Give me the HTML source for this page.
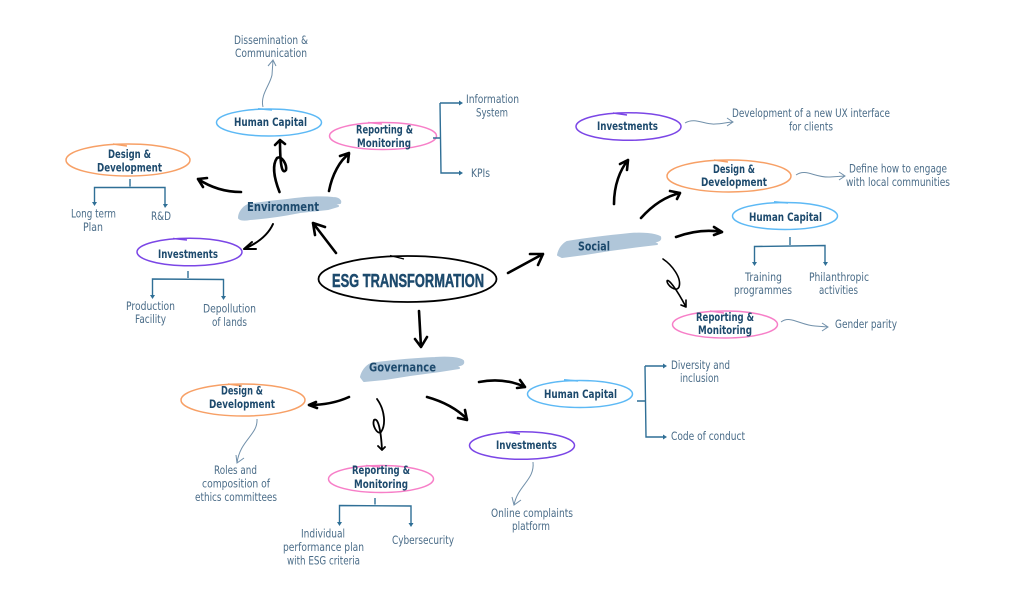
<!DOCTYPE html>
<html><head><meta charset="utf-8"><style>
html,body{margin:0;padding:0;background:#fff}
svg{display:block}
text{font-family:"DejaVu Sans","Liberation Sans",sans-serif}
.t{font-size:11.5px;fill:#4a6c88}
.b{font-size:11.500px;font-weight:700;fill:#1d4a6d}
.k{fill:none;stroke:#000;stroke-width:2.6;stroke-linecap:round;stroke-linejoin:round}
.w{fill:none;stroke:#7190aa;stroke-width:1}
.r{fill:none;stroke:#2f6f96;stroke-width:1.4}
.e{fill:none;stroke-width:1.5}
.br{fill:#b0c6d9;stroke:#b0c6d9;stroke-width:2;stroke-linejoin:round}
</style></head><body>
<svg xmlns="http://www.w3.org/2000/svg" width="1024" height="601" viewBox="0 0 1024 601">
<rect width="1024" height="601" fill="#fff"/>
<!-- brush strokes -->
<path class="br" d="M239 218C239 213 243 207 248 205C265 202 280 201 295 199C310 197 325 197 333 198C339 198 341 201 340 203L332 204L338 206L328 209L300 212C285 215 265 218 250 219C245 220 241 220 239 218Z"/>
<path class="br" d="M558 255C559 250 562 245 567 242C585 239 610 236 630 234C642 233 655 234 660 237C661 240 659 241 652 242L657 244L640 246L610 250L585 254L562 257Z"/>
<path class="br" d="M361 377C362 372 366 366 371 364C390 361 415 359 435 358C448 357 460 358 463 361C464 364 462 365 455 366L459 368L440 371L410 375L385 379L364 381Z"/>
<!-- ellipses -->
<g class="e" stroke="#5db9f5">
<ellipse cx="269" cy="122.500" rx="52.500" ry="13.500"/><path d="M272 110L258 108.800"/>
<ellipse cx="785" cy="216" rx="52.500" ry="13.500"/><path d="M788 203L774 201.800"/>
<ellipse cx="580" cy="394" rx="52.500" ry="13.500"/><path d="M578 381L564 379.800"/>
</g>
<g class="e" stroke="#f7a066">
<ellipse cx="128" cy="160" rx="62" ry="16"/><path d="M127 146L113 144"/>
<ellipse cx="729" cy="176" rx="62" ry="16"/><path d="M728 162L714 160"/>
<ellipse cx="243" cy="400" rx="62" ry="16"/><path d="M242 386L228 384"/>
</g>
<g class="e" stroke="#f77fc8">
<ellipse cx="383" cy="136" rx="53.500" ry="13.500"/><path d="M382 124L368 122.500"/>
<ellipse cx="725" cy="324.500" rx="52.500" ry="13.500"/><path d="M724 313L710 311"/>
<ellipse cx="381" cy="479" rx="52.500" ry="13.500"/><path d="M380 467L366 465.500"/>
</g>
<g class="e" stroke="#7b46e6">
<ellipse cx="189.500" cy="252" rx="52.500" ry="13.800"/><path d="M187 240L173 238.500"/>
<ellipse cx="628.500" cy="126.500" rx="52.500" ry="13.800"/><path d="M627 115L613 113"/>
<ellipse cx="522" cy="445.500" rx="52.500" ry="13.800"/><path d="M520 434L506 432"/>
</g>
<ellipse cx="407.500" cy="279" rx="89" ry="23" fill="none" stroke="#000" stroke-width="1.800"/>
<path d="M404 259L390 255.500" fill="none" stroke="#000" stroke-width="1.400"/>
<!-- black arrows -->
<g class="k">
<path d="M279.500 192C274 178 272 165 277 158C282 155 287 165 286 170C282 175 280 165 280 140M275 145L280 140L285 144"/>
<path d="M241 192C225 192 210 187 198 179M207 178L198 179L203 187"/>
<path d="M329 191C332 175 340 160 349 154M340 156L349 153L348 162"/>
<path d="M273 224C268 235 258 243 244 249M252 242L244 249L256 249" stroke-width="2"/>
<path d="M336 253L313 223M315 235L313 223L325 227"/>
<path d="M419 311L421 347M415 339L421 347L427 337"/>
<path d="M508 273L543 254M530 254L543 254L538 265"/>
<path d="M614 204C614 185 620 170 628 160M620 164L628 160L627 170"/>
<path d="M641 218C650 208 663 197 680 193M670 191L680 193L677 199"/>
<path d="M676 237C690 232 705 229 722 232M714 227L722 232L714 235"/>
<path d="M663 259C672 265 682 278 679 287C676 293 667 285 667 281C668 278 676 288 686 307M681 305L686 307L686 300" stroke-width="1.600"/>
<path d="M349 397C338 402 325 405 309 405M316 402L309 405L317 408"/>
<path d="M377 399C385 410 386 425 381 432C377 435 372 425 374 420C378 417 381 430 382 450M378 446L382 450L385 447" stroke-width="1.800"/>
<path d="M427 397C445 402 458 410 467 419M458 418L467 420L465 410"/>
<path d="M479 382C495 379 510 380 525 387M517 388L525 387L520 380"/>
</g>
<!-- blue trees -->
<g class="r">
<path d="M130 179V186.500M94.500 203V187.500L165 187.500V205"/>
<path d="M188 271V278M152.500 296V279L223.500 279.500V297"/>
<path d="M790 237V245M754.500 263V246.500L825 245.500V263"/>
<path d="M375 498V504.500M339.500 523V505.500L411 506V524"/>
<path d="M433 138H440.500M440 103H460M440 103L441 173H460"/>
<path d="M637 401H645.500M645 366H664M645 366L646 437H664"/>
</g>
<g fill="#2f6f96">
<path d="M92 202H97L94.500 206Z"/><path d="M163 204H168L165 208Z"/>
<path d="M150 295H155L152.500 299Z"/><path d="M221 296H226L223.500 300Z"/>
<path d="M752 262H757L754.500 266Z"/><path d="M823 262H828L825.500 266Z"/>
<path d="M337 522H342L339.500 526Z"/><path d="M408.500 523H413.500L411 527Z"/>
<path d="M459 100.500V105.500L463 103Z"/><path d="M459 170.500V175.500L463 173Z"/>
<path d="M663 363.500V368.500L667 366Z"/><path d="M663 434.500V439.500L667 437Z"/>
</g>
<!-- thin waves -->
<g class="w">
<path d="M263 107C260 95 270 85 272 75L273 60M268 66L273 60L276 66"/>
<path d="M685 123C695 117 705 125 715 124C722 124 728 122 733 122M727 118L733 122L727 126"/>
<path d="M796 175C806 168 815 178 830 177L845 176M839 172L845 176L839 180"/>
<path d="M781 322C790 315 800 325 815 326L828 327M822 323L828 327L822 331"/>
<path d="M257 419C258 435 240 440 237 463M236 455L237 463L244 458"/>
<path d="M533 462C535 480 518 485 514 505M512 497L514 505L521 500"/>
</g>
<!-- labels -->
<text x="332" y="287" textLength="152" lengthAdjust="spacingAndGlyphs" style="font-family:'Liberation Sans',sans-serif;font-weight:700;font-size:18.500px;fill:#1d4a6d;stroke:#1d4a6d;stroke-width:.5">ESG TRANSFORMATION</text>
<g>
<text class="t" x="234" y="44" textLength="74" lengthAdjust="spacingAndGlyphs">Dissemination &amp;</text>
<text class="t" x="235" y="57" textLength="72" lengthAdjust="spacingAndGlyphs">Communication</text>
<text class="b" x="234" y="126" textLength="73" lengthAdjust="spacingAndGlyphs">Human Capital</text>
<text class="b" x="108" y="158" textLength="43" lengthAdjust="spacingAndGlyphs">Design &amp;</text>
<text class="b" x="97" y="171.500" textLength="65" lengthAdjust="spacingAndGlyphs">Development</text>
<text class="b" x="356" y="133.500" textLength="57" lengthAdjust="spacingAndGlyphs">Reporting &amp;</text>
<text class="b" x="357" y="147" textLength="54" lengthAdjust="spacingAndGlyphs">Monitoring</text>
<text class="t" x="466" y="103" textLength="53" lengthAdjust="spacingAndGlyphs">Information</text>
<text class="t" x="476" y="116.500" textLength="32" lengthAdjust="spacingAndGlyphs">System</text>
<text class="t" x="471" y="177" textLength="19" lengthAdjust="spacingAndGlyphs">KPIs</text>
<text class="b" style="font-size:12.500px" x="247" y="211" textLength="72" lengthAdjust="spacingAndGlyphs">Environment</text>
<text class="t" x="71" y="217.500" textLength="45" lengthAdjust="spacingAndGlyphs">Long term</text>
<text class="t" x="83" y="231" textLength="20" lengthAdjust="spacingAndGlyphs">Plan</text>
<text class="t" x="151" y="220" textLength="20" lengthAdjust="spacingAndGlyphs">R&amp;D</text>
<text class="b" x="158" y="258" textLength="60" lengthAdjust="spacingAndGlyphs">Investments</text>
<text class="t" x="126" y="310" textLength="49" lengthAdjust="spacingAndGlyphs">Production</text>
<text class="t" x="135" y="323" textLength="31" lengthAdjust="spacingAndGlyphs">Facility</text>
<text class="t" x="203" y="312.500" textLength="53" lengthAdjust="spacingAndGlyphs">Depollution</text>
<text class="t" x="212" y="326" textLength="35" lengthAdjust="spacingAndGlyphs">of lands</text>
<text class="b" style="font-size:12.500px" x="578" y="250.500" textLength="32" lengthAdjust="spacingAndGlyphs">Social</text>
<text class="b" style="font-size:12.500px" x="369" y="371.500" textLength="67" lengthAdjust="spacingAndGlyphs">Governance</text>
<text class="b" x="597" y="130" textLength="61" lengthAdjust="spacingAndGlyphs">Investments</text>
<text class="b" x="713" y="173" textLength="42" lengthAdjust="spacingAndGlyphs">Design &amp;</text>
<text class="b" x="701" y="186" textLength="66" lengthAdjust="spacingAndGlyphs">Development</text>
<text class="b" x="749" y="221" textLength="73" lengthAdjust="spacingAndGlyphs">Human Capital</text>
<text class="t" x="745" y="281" textLength="37" lengthAdjust="spacingAndGlyphs">Training</text>
<text class="t" x="734" y="294" textLength="58" lengthAdjust="spacingAndGlyphs">programmes</text>
<text class="t" x="809" y="281" textLength="60" lengthAdjust="spacingAndGlyphs">Philanthropic</text>
<text class="t" x="819" y="294" textLength="39" lengthAdjust="spacingAndGlyphs">activities</text>
<text class="b" x="696" y="321" textLength="58" lengthAdjust="spacingAndGlyphs">Reporting &amp;</text>
<text class="b" x="698" y="334" textLength="54" lengthAdjust="spacingAndGlyphs">Monitoring</text>
<text class="t" x="835" y="328" textLength="62" lengthAdjust="spacingAndGlyphs">Gender parity</text>
<text class="t" x="732" y="117" textLength="158" lengthAdjust="spacingAndGlyphs">Development of a new UX interface</text>
<text class="t" x="789" y="130.500" textLength="44" lengthAdjust="spacingAndGlyphs">for clients</text>
<text class="t" x="849" y="172.500" textLength="98" lengthAdjust="spacingAndGlyphs">Define how to engage</text>
<text class="t" x="846" y="186" textLength="104" lengthAdjust="spacingAndGlyphs">with local communities</text>
<text class="b" x="221" y="394.500" textLength="42" lengthAdjust="spacingAndGlyphs">Design &amp;</text>
<text class="b" x="209" y="408" textLength="66" lengthAdjust="spacingAndGlyphs">Development</text>
<text class="t" x="214" y="474" textLength="43" lengthAdjust="spacingAndGlyphs">Roles and</text>
<text class="t" x="202" y="487.500" textLength="68" lengthAdjust="spacingAndGlyphs">composition of</text>
<text class="t" x="195" y="501" textLength="82" lengthAdjust="spacingAndGlyphs">ethics committees</text>
<text class="b" x="352" y="474" textLength="58" lengthAdjust="spacingAndGlyphs">Reporting &amp;</text>
<text class="b" x="354" y="488" textLength="54" lengthAdjust="spacingAndGlyphs">Monitoring</text>
<text class="t" x="301" y="537.500" textLength="44" lengthAdjust="spacingAndGlyphs">Individual</text>
<text class="t" x="283" y="551" textLength="81" lengthAdjust="spacingAndGlyphs">performance plan</text>
<text class="t" x="287" y="564.500" textLength="73" lengthAdjust="spacingAndGlyphs">with ESG criteria</text>
<text class="t" x="392" y="544" textLength="62" lengthAdjust="spacingAndGlyphs">Cybersecurity</text>
<text class="b" x="544" y="398" textLength="73" lengthAdjust="spacingAndGlyphs">Human Capital</text>
<text class="b" x="496" y="449" textLength="61" lengthAdjust="spacingAndGlyphs">Investments</text>
<text class="t" x="491" y="517" textLength="82" lengthAdjust="spacingAndGlyphs">Online complaints</text>
<text class="t" x="512" y="530" textLength="38" lengthAdjust="spacingAndGlyphs">platform</text>
<text class="t" x="671" y="369" textLength="59" lengthAdjust="spacingAndGlyphs">Diversity and</text>
<text class="t" x="680" y="382" textLength="39" lengthAdjust="spacingAndGlyphs">inclusion</text>
<text class="t" x="671" y="440" textLength="74" lengthAdjust="spacingAndGlyphs">Code of conduct</text>
</g>
</svg>
</body></html>
